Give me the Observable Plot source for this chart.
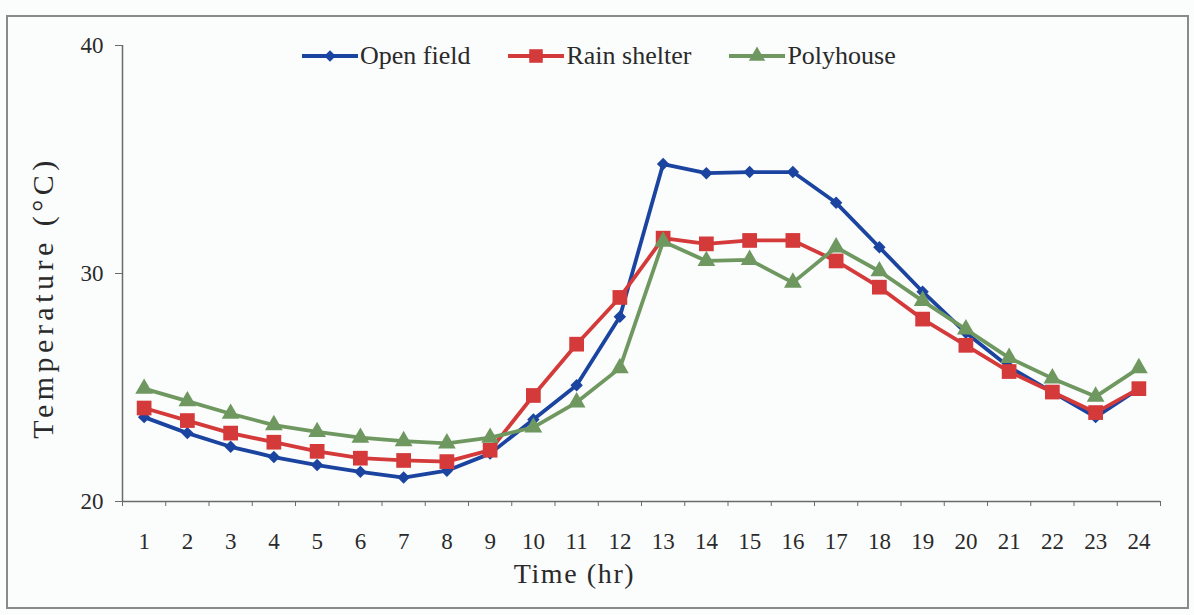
<!DOCTYPE html>
<html>
<head>
<meta charset="utf-8">
<script src="https://cdn.jsdelivr.net/npm/d3@7"></script>
<script src="https://cdn.jsdelivr.net/npm/@observablehq/plot@0.6"></script>
<style>
  html, body { margin: 0; padding: 0; background: #fbfcfc; }
  #wrap { position: relative; width: 1194px; height: 615px; overflow: hidden; font-family: "Liberation Serif", "Times New Roman", serif; }
  #frame { position: absolute; left: 6px; top: 15px; width: 1183px; height: 594px; border: 2px solid #8a8a8a; box-sizing: border-box; }
  #chart { position: absolute; left: 0; top: 0; }
  #legend { position: absolute; top: 41px; left: 302px; display: flex; align-items: center; font-size: 26px; color: #2a2a2a; }
  .item { display: flex; align-items: center; margin-right: 38px; }
  .item svg { margin-right: 2px; }
</style>
</head>
<body>
<div id="wrap">
  <div id="frame"></div>
  <div id="chart"></div>
  <div id="legend"></div>
</div>
<script>
// ---- data ----
const hours = [1,2,3,4,5,6,7,8,9,10,11,12,13,14,15,16,17,18,19,20,21,22,23,24];
const openField   = [23.7, 23.0, 22.4, 21.95, 21.6, 21.3, 21.05, 21.35, 22.1, 23.6, 25.1, 28.1, 34.8, 34.4, 34.45, 34.45, 33.1, 31.15, 29.2, 27.4, 25.9, 24.8, 23.7, 24.95];
const rainShelter = [24.1, 23.55, 23.0, 22.6, 22.2, 21.9, 21.8, 21.75, 22.25, 24.65, 26.9, 28.95, 31.55, 31.3, 31.45, 31.45, 30.55, 29.4, 28.0, 26.85, 25.7, 24.8, 23.9, 24.95];
const polyhouse   = [24.95, 24.4, 23.85, 23.35, 23.05, 22.8, 22.65, 22.55, 22.8, 23.25, 24.35, 25.85, 31.4, 30.55, 30.6, 29.6, 31.15, 30.1, 28.8, 27.55, 26.3, 25.4, 24.6, 25.85];
const seriesNames = ["Open field", "Rain shelter", "Polyhouse"];
const yTicks = [20, 30, 40];
const yTitle = "Temperature (°C)";
const xTitle = "Time (hr)";

const colors = {"Open field": "#1a44a0", "Rain shelter": "#d43a3a", "Polyhouse": "#6f9860"};
const symbols = {"Open field": "diamond2", "Rain shelter": "square", "Polyhouse": "triangle"};
const radii = {"Open field": 5.6, "Rain shelter": 8.3, "Polyhouse": 6.6};
const valuesBy = {"Open field": openField, "Rain shelter": rainShelter, "Polyhouse": polyhouse};

const table = seriesNames.flatMap(name => hours.map((h, i) => ({series: name, hour: h, temp: valuesBy[name][i]})));
const boundaries = d3.range(hours.length + 1).map(i => hours[0] - 0.5 + i);

const seriesMarks = seriesNames.flatMap(name => {
  const d = table.filter(r => r.series === name);
  return [
    Plot.line(d, {x: "hour", y: "temp", stroke: colors[name], strokeWidth: 3.8}),
    Plot.dot(d, {x: "hour", y: "temp", symbol: () => symbols[name], r: radii[name], fill: colors[name], stroke: "none"})
  ];
});

const chart = Plot.plot({
  width: 1194,
  height: 615,
  marginTop: 45,
  marginBottom: 114,
  marginLeft: 122,
  marginRight: 34,
  style: {background: "transparent", fontFamily: "'Liberation Serif', 'Times New Roman', serif", fontSize: "23px", color: "#2a2a2a"},
  x: {domain: [0.5, 24.5], axis: null},
  y: {domain: [20, 40], axis: null},
  symbol: {type: "identity"},
  marks: [
    Plot.axisY({ticks: yTicks, tickSize: 7, tickPadding: 12, label: null, fontSize: 23, stroke: "#6a6a6a"}),
    Plot.axisX({ticks: hours, tickSize: 0, tickPadding: 31, label: null, fontSize: 23, tickFormat: d => String(d)}),
    Plot.axisX({ticks: boundaries, tickSize: 5, tickFormat: () => "", label: null, stroke: "#6a6a6a"}),
    Plot.ruleX([0.5], {y1: 20, y2: 40, stroke: "#6a6a6a", strokeWidth: 1.5}),
    Plot.ruleY([20], {x1: 0.5, x2: 24.5, stroke: "#6a6a6a", strokeWidth: 1.5}),
    ...seriesMarks,
    Plot.text([yTitle], {frameAnchor: "left", dx: -79, dy: 24, rotate: -90, fontSize: 30, fill: "#2a2a2a", textAnchor: "middle"}),
    Plot.text([xTitle], {frameAnchor: "bottom-left", dx: 452, dy: 81, fontSize: 28, fill: "#2a2a2a", textAnchor: "middle"})
  ]
});
document.getElementById("chart").appendChild(chart);

// widen the stretched-looking axis titles
d3.select(chart).selectAll("text").each(function() {
  if (this.textContent === yTitle) d3.select(this).style("letter-spacing", "4.5px");
  if (this.textContent === xTitle) d3.select(this).style("letter-spacing", "1.6px");
});

// ---- legend ----
const legend = d3.select("#legend");
const symGen = {"diamond2": d3.symbolDiamond2, "square": d3.symbolSquare, "triangle": d3.symbolTriangle};
seriesNames.forEach((name) => {
  const item = legend.append("div").attr("class", "item");
  const svg = item.append("svg").attr("width", 56).attr("height", 22);
  svg.append("line").attr("x1", 0).attr("x2", 56).attr("y1", 11).attr("y2", 11)
    .attr("stroke", colors[name]).attr("stroke-width", 3.8);
  svg.append("path").attr("transform", "translate(28,11)")
    .attr("d", d3.symbol(symGen[symbols[name]], Math.PI * radii[name] * radii[name] * 0.85)())
    .attr("fill", colors[name]);
  item.append("span").text(name);
});
</script>
</body>
</html>
